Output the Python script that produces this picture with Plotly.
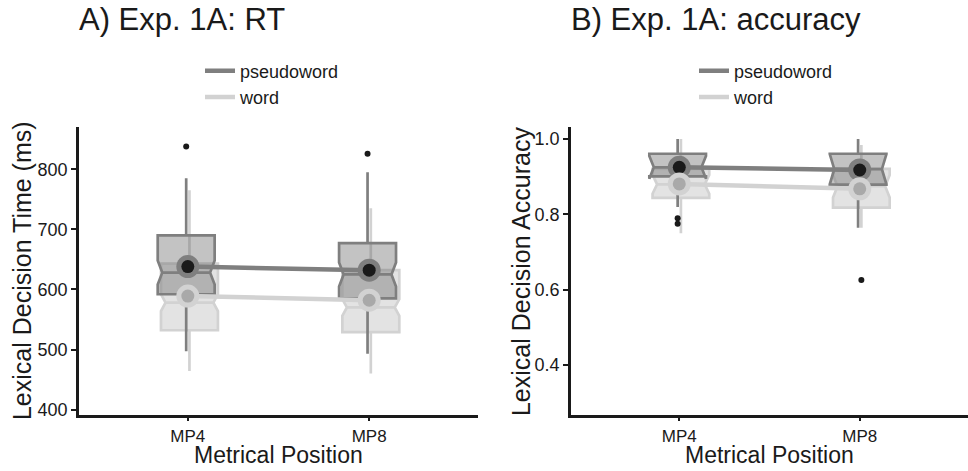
import plotly.graph_objects as go

# ---------------- data ----------------
categories = ["MP4", "MP8"]
conditions = ["pseudoword", "word"]

# Panel A: RT (ms)
rt_pseudo_lower = [497, 493]
rt_pseudo_q1 = [592, 585]
rt_pseudo_median = [628, 625]
rt_pseudo_q3 = [690, 677]
rt_pseudo_upper = [785, 795]
rt_pseudo_notch = [20, 20]
rt_pseudo_mean = [638, 632]

rt_word_lower = [464, 460]
rt_word_q1 = [532, 529]
rt_word_median = [578, 570]
rt_word_q3 = [643, 632]
rt_word_upper = [765, 735]
rt_word_notch = [14, 14]
rt_word_mean = [589, 582]

rt_pseudo_outlier_cat = ["MP4", "MP8"]
rt_pseudo_outlier_val = [838, 826]
rt_word_outlier_cat = []
rt_word_outlier_val = []

# Panel B: accuracy
acc_pseudo_lower = [0.82, 0.765]
acc_pseudo_q1 = [0.901, 0.879]
acc_pseudo_median = [0.925, 0.920]
acc_pseudo_q3 = [0.961, 0.961]
acc_pseudo_upper = [1.0, 1.0]
acc_pseudo_notch = [0.03, 0.04]
acc_pseudo_mean = [0.925, 0.918]

acc_word_lower = [0.75, 0.765]
acc_word_q1 = [0.844, 0.818]
acc_word_median = [0.880, 0.875]
acc_word_q3 = [0.921, 0.921]
acc_word_upper = [1.0, 0.984]
acc_word_notch = [0.025, 0.03]
acc_word_mean = [0.881, 0.868]

acc_pseudo_outlier_cat = ["MP4", "MP4"]
acc_pseudo_outlier_val = [0.79, 0.775]
acc_word_outlier_cat = ["MP8"]
acc_word_outlier_val = [0.626]

panel_titles = ["A) Exp. 1A: RT", "B) Exp. 1A: accuracy"]
x_title = "Metrical Position"
y_titles = ["Lexical Decision Time (ms)", "Lexical Decision Accuracy"]
rt_ticks = [400, 500, 600, 700, 800]
acc_ticks = [0.4, 0.6, 0.8, 1.0]

# ---------------- style ----------------
FONT = "Liberation Sans, Arial, Helvetica, sans-serif"
INK = "#1a1a1a"
W, H = 968, 471
col_line = {"pseudoword": "#7f7f7f", "word": "#d2d2d2"}
col_fill = {"pseudoword": "rgba(105,105,105,0.40)", "word": "rgba(188,188,188,0.42)"}
col_inner = {"pseudoword": INK, "word": "#a9a9a9"}
dodge = {"pseudoword": -0.009, "word": 0.009}
BOX_W = 0.314

pos = {c: i for i, c in enumerate(categories)}

def px(x):
    return x / W

def py(y):
    return 1 - y / H

fig = go.Figure()

panels = [
    dict(xa="x", ya="y", legend="legend",
         stats={
             "pseudoword": (rt_pseudo_lower, rt_pseudo_q1, rt_pseudo_median, rt_pseudo_q3,
                            rt_pseudo_upper, rt_pseudo_notch, rt_pseudo_mean,
                            rt_pseudo_outlier_cat, rt_pseudo_outlier_val),
             "word": (rt_word_lower, rt_word_q1, rt_word_median, rt_word_q3,
                      rt_word_upper, rt_word_notch, rt_word_mean,
                      rt_word_outlier_cat, rt_word_outlier_val),
         }),
    dict(xa="x2", ya="y2", legend="legend2",
         stats={
             "pseudoword": (acc_pseudo_lower, acc_pseudo_q1, acc_pseudo_median, acc_pseudo_q3,
                            acc_pseudo_upper, acc_pseudo_notch, acc_pseudo_mean,
                            acc_pseudo_outlier_cat, acc_pseudo_outlier_val),
             "word": (acc_word_lower, acc_word_q1, acc_word_median, acc_word_q3,
                      acc_word_upper, acc_word_notch, acc_word_mean,
                      acc_word_outlier_cat, acc_word_outlier_val),
         }),
]

for p in panels:
    # boxes: word first, pseudoword drawn on top
    for cond in ["word", "pseudoword"]:
        lo, q1, med, q3, up, notch, mean, oc, ov = p["stats"][cond]
        fig.add_trace(go.Box(
            x=[pos[c] + dodge[cond] for c in categories],
            lowerfence=lo, q1=q1, median=med, q3=q3, upperfence=up,
            notchspan=notch, notched=True, notchwidth=0.08,
            width=BOX_W, whiskerwidth=0, boxpoints=False,
            line=dict(color=col_line[cond], width=2.7),
            fillcolor=col_fill[cond],
            xaxis=p["xa"], yaxis=p["ya"], showlegend=False, hoverinfo="skip",
        ))
    # outliers
    for cond in ["pseudoword", "word"]:
        lo, q1, med, q3, up, notch, mean, oc, ov = p["stats"][cond]
        if ov:
            fig.add_trace(go.Scatter(
                x=[pos[c] + dodge[cond] for c in oc], y=ov, mode="markers",
                marker=dict(color=INK, size=6),
                xaxis=p["xa"], yaxis=p["ya"], showlegend=False, hoverinfo="skip",
            ))
    # mean lines (legend)
    for cond in ["pseudoword", "word"]:
        mean = p["stats"][cond][6]
        fig.add_trace(go.Scatter(
            x=[pos[c] for c in categories], y=mean, mode="lines", name=cond,
            line=dict(color=col_line[cond], width=4.5),
            xaxis=p["xa"], yaxis=p["ya"], legend=p["legend"], hoverinfo="skip",
        ))
    # mean points
    for cond in ["pseudoword", "word"]:
        mean = p["stats"][cond][6]
        fig.add_trace(go.Scatter(
            x=[pos[c] for c in categories], y=mean, mode="markers",
            marker=dict(color=col_line[cond], size=23, line=dict(width=0)),
            xaxis=p["xa"], yaxis=p["ya"], showlegend=False, hoverinfo="skip",
        ))
        fig.add_trace(go.Scatter(
            x=[pos[c] for c in categories], y=mean, mode="markers",
            marker=dict(color=col_inner[cond], size=13, line=dict(width=0)),
            xaxis=p["xa"], yaxis=p["ya"], showlegend=False, hoverinfo="skip",
        ))

axis_common = dict(
    showline=True, linecolor=INK, linewidth=2.5,
    ticks="outside", ticklen=5, tickwidth=2, tickcolor=INK,
    showgrid=False, zeroline=False,
    tickfont=dict(family=FONT, size=18, color=INK),
)
xtickfont = dict(family=FONT, size=17, color=INK)

ydom = [py(419), py(128)]
xdoms = [[px(79), px(478)], [px(571), 1.0]]
fig.update_layout(
    width=W, height=H,
    margin=dict(l=0, r=0, t=0, b=0),
    paper_bgcolor="white", plot_bgcolor="white",
    font=dict(family=FONT, color=INK),
    xaxis=dict(axis_common, domain=xdoms[0], range=[-0.6, 1.6], ticklen=4, tickfont=xtickfont,
               tickvals=list(range(len(categories))), ticktext=categories, anchor="y"),
    yaxis=dict(axis_common, domain=ydom, range=[391.7, 871],
               tickvals=rt_ticks, anchor="x"),
    xaxis2=dict(axis_common, domain=xdoms[1], range=[-0.6, 1.6], ticklen=4, tickfont=xtickfont,
                tickvals=list(range(len(categories))), ticktext=categories, anchor="y2"),
    yaxis2=dict(axis_common, domain=ydom, range=[0.269, 1.033],
                tickvals=acc_ticks, ticktext=[f"{v:.1f}" for v in acc_ticks], anchor="x2"),
    legend=dict(x=px(200), y=py(53), xanchor="left", yanchor="top",
                font=dict(family=FONT, size=18, color=INK),
                bgcolor="rgba(0,0,0,0)", tracegroupgap=0, itemclick=False),
    legend2=dict(x=px(694), y=py(53), xanchor="left", yanchor="top",
                 font=dict(family=FONT, size=18, color=INK),
                 bgcolor="rgba(0,0,0,0)", tracegroupgap=0, itemclick=False),
)

ann = []
for i, dom in enumerate(xdoms):
    ann.append(dict(text=panel_titles[i], x=dom[0] - px(2), y=py(20), xref="paper", yref="paper",
                    xanchor="left", yanchor="middle", showarrow=False,
                    font=dict(family=FONT, size=31, color=INK)))
    ann.append(dict(text=x_title, x=(dom[0] + min(dom[1], px(970))) / 2, y=py(460),
                    xref="paper", yref="paper", xanchor="center", yanchor="middle",
                    showarrow=False, font=dict(family=FONT, size=23, color=INK)))
y_title_x = [22, 521]
for i in range(2):
    ann.append(dict(text=y_titles[i], x=px(y_title_x[i]), y=py(274), xref="paper", yref="paper",
                    xanchor="center", yanchor="middle", textangle=-90, showarrow=False,
                    font=dict(family=FONT, size=25, color=INK)))
fig.update_layout(annotations=ann)

fig.write_html("out.html", config={"displayModeBar": False},
               post_script="document.body.style.margin='0';")
